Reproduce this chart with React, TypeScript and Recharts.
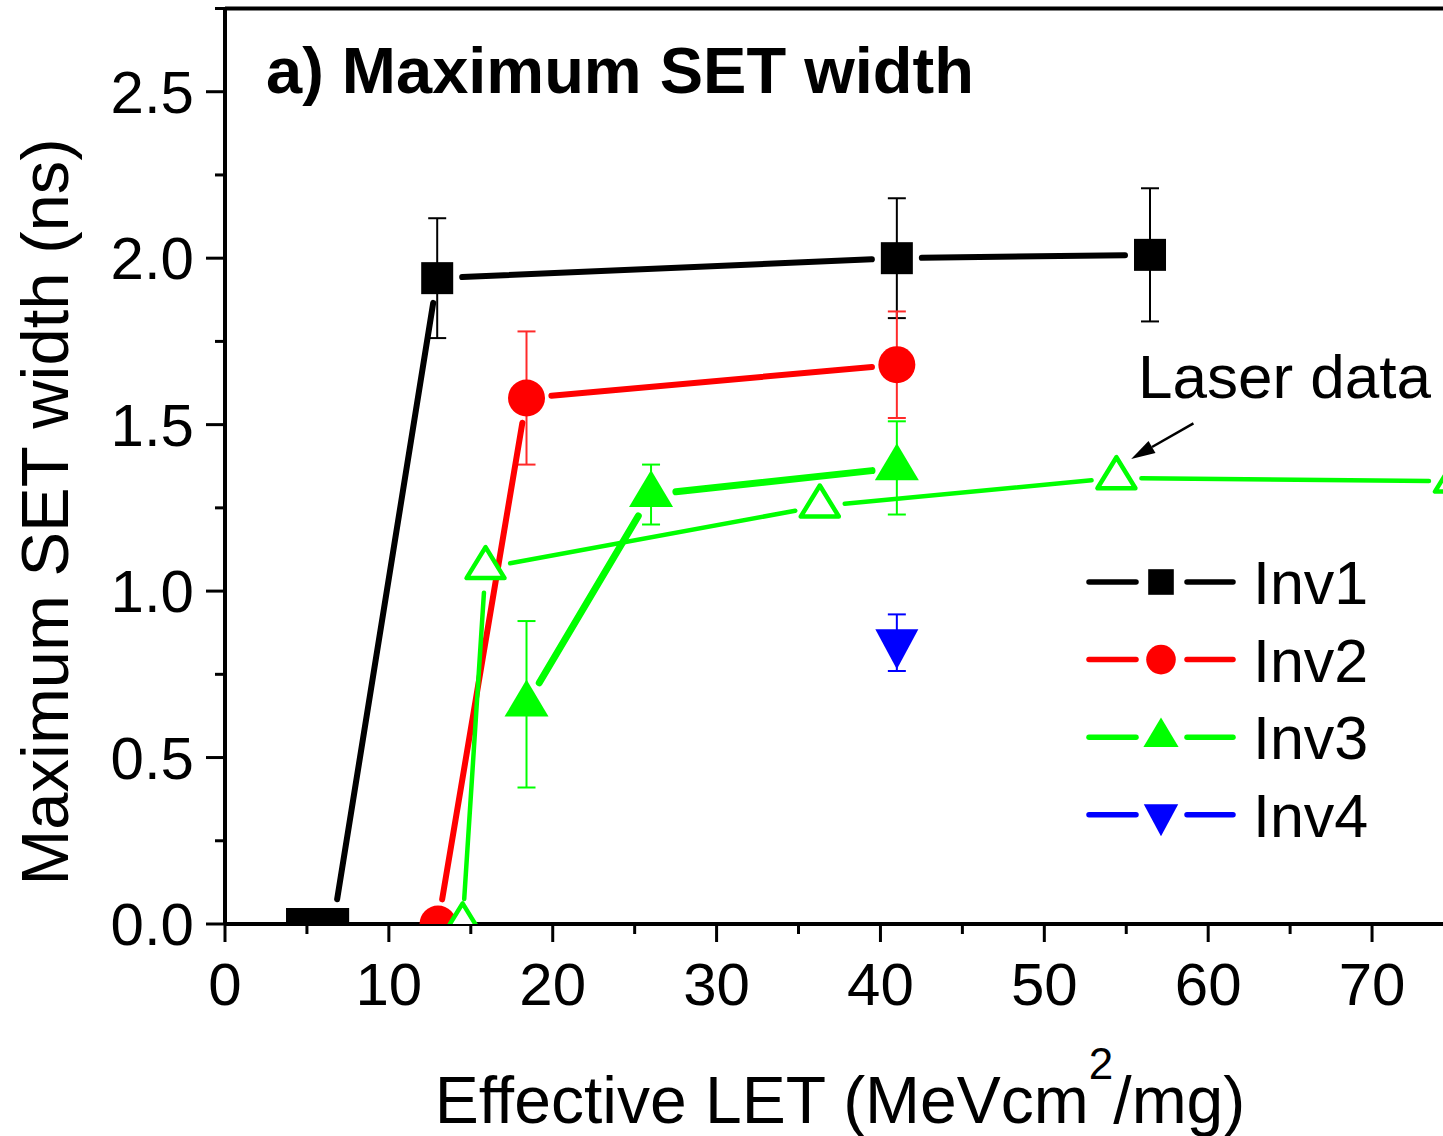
import React from "react"
import { LineChart, Line, XAxis, YAxis, ErrorBar, ReferenceLine, Customized } from "recharts"

const FONT = '"Liberation Sans", Arial, Helvetica, sans-serif'

// Inv1 - black squares
const inv1X = [4.7, 6.6, 12.95, 41, 56.45]
const inv1Y = [0, 0, 1.94, 2.0, 2.01]
const inv1Err = [null, null, 0.18, 0.18, 0.2]

// Inv2 - red circles
const inv2X = [13, 18.4, 41]
const inv2Y = [0, 1.58, 1.68]
const inv2Err = [null, 0.2, 0.16]

// Inv3 - green filled triangles
const inv3X = [18.4, 26, 41]
const inv3Y = [0.66, 1.29, 1.37]
const inv3Err = [0.25, 0.09, 0.14]

// Inv4 - blue down triangle
const inv4X = [41]
const inv4Y = [0.845]
const inv4Err = [0.085]

// laser data - open green triangles
const laserX = [14.5, 15.9, 36.3, 54.4, 75]
const laserY = [0, 1.07, 1.255, 1.34, 1.33]

const xTicks = [0, 5, 10, 15, 20, 25, 30, 35, 40, 45, 50, 55, 60, 65, 70]
const yTicks = [0, 0.25, 0.5, 0.75, 1, 1.25, 1.5, 1.75, 2, 2.25, 2.5, 2.75]

// arrow for the "Laser data" note (from -> to)
const arrowFrom = [59.1, 1.504]
const arrowTo = [55.3, 1.397]

const legendNames = ["Inv1", "Inv2", "Inv3", "Inv4"]

const build = (xs: number[], ys: number[], errs?: (number | null)[]) =>
  xs.map((x, i) => {
    const e = errs ? errs[i] : null
    return e == null ? { x, y: ys[i] } : { x, y: ys[i], err: e }
  })

const inv1 = build(inv1X, inv1Y, inv1Err)
const inv2 = build(inv2X, inv2Y, inv2Err)
const inv3 = build(inv3X, inv3Y, inv3Err)
const inv4 = build(inv4X, inv4Y, inv4Err)
const laser = build(laserX, laserY)

const GAP = 25

function marker(kind: string, cx: number, cy: number, color: string, s = 1) {
  if (kind === "square") {
    const h = 16 * s
    return <rect x={cx - h} y={cy - h} width={2 * h} height={2 * h} fill={color} />
  }
  if (kind === "circle") return <circle cx={cx} cy={cy} r={18.5 * s} fill={color} />
  if (kind === "up") {
    const w = 22 * s, h = 37 * s
    return <polygon points={`${cx},${cy - (2 * h) / 3} ${cx - w},${cy + h / 3} ${cx + w},${cy + h / 3}`} fill={color} />
  }
  if (kind === "down") {
    const w = 21.5 * s, h = 40 * s
    return <polygon points={`${cx - w},${cy - h / 3} ${cx + w},${cy - h / 3} ${cx},${cy + (2 * h) / 3}`} fill={color} />
  }
  // open triangle
  const w = 19 * s, h = 31 * s
  return (
    <polygon
      points={`${cx},${cy - (2 * h) / 3} ${cx - w},${cy + h / 3} ${cx + w},${cy + h / 3}`}
      fill="#fff"
      stroke={color}
      strokeWidth={4.5}
      strokeLinejoin="round"
    />
  )
}

function gapSegment(x1: number, y1: number, x2: number, y2: number, color: string, lw: number) {
  const dx = x2 - x1, dy = y2 - y1
  const len = Math.hypot(dx, dy)
  if (len <= 2 * GAP) return null
  const ux = dx / len, uy = dy / len
  return (
    <line
      x1={x1 + ux * GAP}
      y1={y1 + uy * GAP}
      x2={x2 - ux * GAP}
      y2={y2 - uy * GAP}
      stroke={color}
      strokeWidth={lw}
      strokeLinecap="round"
    />
  )
}

// draws the marker (clipped to the plot) plus the gapped line to the next point
const makeDot = (kind: string, color: string, lw: number) => (props: any) => {
  const { cx, cy, index, points } = props
  const next = points && points[index + 1]
  return (
    <g key={`dot-${index}`}>
      {next ? gapSegment(cx, cy, next.x, next.y, color, lw) : null}
      <g clipPath="url(#plot-clip)">{marker(kind, cx, cy, color)}</g>
    </g>
  )
}

const YTick = (props: any) => {
  const { x, y, payload } = props
  const v = payload.value
  const major = Math.abs(v * 2 - Math.round(v * 2)) < 1e-6
  return (
    <g>
      <line x1={x} y1={y} x2={x - (major ? 19 : 10)} y2={y} stroke="#000" strokeWidth={3} />
      {major && (
        <text x={x - 31} y={y + 21} textAnchor="end" fontSize={60} fontFamily={FONT} fill="#000">
          {v.toFixed(1)}
        </text>
      )}
    </g>
  )
}

const XTick = (props: any) => {
  const { x, y, payload } = props
  const v = payload.value
  const major = v % 10 === 0
  return (
    <g>
      <line x1={x} y1={y} x2={x} y2={y + (major ? 18 : 10)} stroke="#000" strokeWidth={3} />
      {major && (
        <text x={x} y={y + 81} textAnchor="middle" fontSize={60} fontFamily={FONT} fill="#000">
          {v}
        </text>
      )}
    </g>
  )
}

const Arrow = (props: any) => {
  const { x1, y1, x2, y2 } = props
  const dx = x2 - x1, dy = y2 - y1
  const len = Math.hypot(dx, dy)
  const ux = dx / len, uy = dy / len
  const hl = 24, hw = 7
  const bx = x2 - ux * hl, by = y2 - uy * hl
  return (
    <g>
      <line x1={x1} y1={y1} x2={bx} y2={by} stroke="#000" strokeWidth={2.5} />
      <polygon points={`${x2},${y2} ${bx - uy * hw},${by + ux * hw} ${bx + uy * hw},${by - ux * hw}`} fill="#000" />
    </g>
  )
}

const legendStyle = [
  { color: "#000000", kind: "square" },
  { color: "#ff0000", kind: "circle" },
  { color: "#00ff00", kind: "up" },
  { color: "#0000ff", kind: "down" },
]

const Annotations = () => (
  <g fontFamily={FONT}>
    <defs>
      <clipPath id="plot-clip">
        <rect x={225} y={8.5} width={1218} height={915.5} />
      </clipPath>
    </defs>
    <text x={266} y={93} fontSize={65} fontWeight="bold" fill="#000">
      a) Maximum SET width
    </text>
    <text x={1138} y={398} fontSize={62} fill="#000">
      Laser data
    </text>
    <text transform="rotate(-90)" x={-512} y={68} textAnchor="middle" fontSize={67} fill="#000">
      Maximum SET width (ns)
    </text>
    <text x={840} y={1123} textAnchor="middle" fontSize={66} fill="#000">
      Effective LET (MeVcm
      <tspan fontSize={44} dy={-44}>2</tspan>
      <tspan fontSize={66} dy={44}>/mg)</tspan>
    </text>
    {legendNames.map((name, i) => {
      const cy = 582 + i * 77.6
      const st = legendStyle[i]
      return (
        <g key={name}>
          <line x1={1089} y1={cy} x2={1136} y2={cy} stroke={st.color} strokeWidth={5.5} strokeLinecap="round" />
          <line x1={1187} y1={cy} x2={1233} y2={cy} stroke={st.color} strokeWidth={5.5} strokeLinecap="round" />
          {marker(st.kind, 1161, cy, st.color, 0.8)}
          <text x={1253} y={cy + 22} fontSize={61} fill="#000">
            {name}
          </text>
        </g>
      )
    })}
  </g>
)

export default function App() {
  return (
    <div style={{ position: "absolute", left: 0, top: 0, width: 1443, height: 1136, background: "#fff" }}>
      <LineChart width={1443} height={1136} margin={{ top: 8.5, right: 0, bottom: 0, left: 0 }}>
        <XAxis
          dataKey="x"
          type="number"
          domain={[0, 74.33]}
          allowDataOverflow
          ticks={xTicks}
          interval={0}
          height={212}
          tickSize={0}
          tickMargin={0}
          tickLine={false}
          axisLine={{ stroke: "#000", strokeWidth: 4 }}
          tick={(p: any) => <XTick {...p} />}
        />
        <YAxis
          type="number"
          domain={[0, 2.75]}
          ticks={yTicks}
          interval={0}
          width={225}
          tickSize={0}
          tickMargin={0}
          tickLine={false}
          axisLine={{ stroke: "#000", strokeWidth: 4 }}
          tick={(p: any) => <YTick {...p} />}
        />
        <ReferenceLine y={2.75} stroke="#000" strokeWidth={4} />

        <Line data={inv1} dataKey="y" stroke="none" isAnimationActive={false} dot={makeDot("square", "#000000", 6)}>
          <ErrorBar dataKey="err" direction="y" width={9} stroke="#000000" strokeWidth={2} />
        </Line>
        <Line data={inv2} dataKey="y" stroke="none" isAnimationActive={false} dot={makeDot("circle", "#ff0000", 6)}>
          <ErrorBar dataKey="err" direction="y" width={9} stroke="#ff2a2a" strokeWidth={2} />
        </Line>
        <Line data={laser} dataKey="y" stroke="none" isAnimationActive={false} dot={makeDot("open", "#00ff00", 4.5)} />
        <Line data={inv3} dataKey="y" stroke="none" isAnimationActive={false} dot={makeDot("up", "#00ff00", 7)}>
          <ErrorBar dataKey="err" direction="y" width={9} stroke="#00ff00" strokeWidth={2} />
        </Line>
        <Line data={inv4} dataKey="y" stroke="none" isAnimationActive={false} dot={makeDot("down", "#0000ff", 6)}>
          <ErrorBar dataKey="err" direction="y" width={9} stroke="#0000ff" strokeWidth={2} />
        </Line>

        <ReferenceLine
          segment={[
            { x: arrowFrom[0], y: arrowFrom[1] },
            { x: arrowTo[0], y: arrowTo[1] },
          ]}
          ifOverflow="visible"
          shape={(p: any) => <Arrow {...p} />}
        />
        <Customized component={Annotations} />
      </LineChart>
    </div>
  )
}
